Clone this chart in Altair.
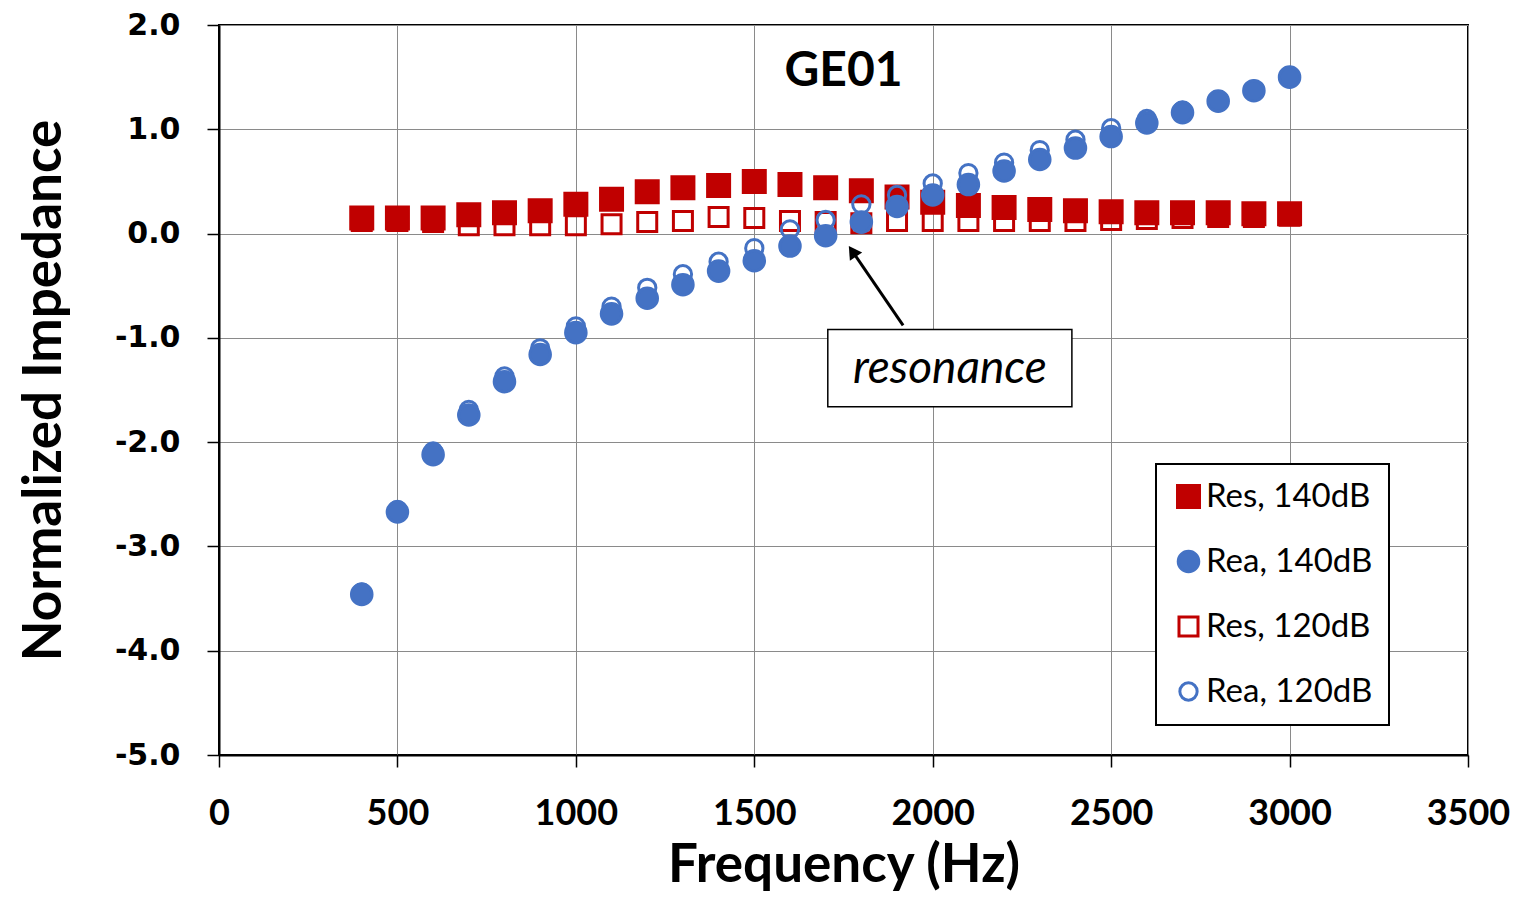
import altair as alt
import pandas as pd

# ---- data ----
freq = [400, 500, 600, 700, 800, 900, 1000, 1100, 1200, 1300, 1400, 1500, 1600, 1700,
        1800, 1900, 2000, 2100, 2200, 2300, 2400, 2500, 2600, 2700, 2800, 2900, 3000]
res_140 = [0.15, 0.15, 0.15, 0.18, 0.20, 0.22, 0.28, 0.33, 0.40, 0.44, 0.46, 0.50, 0.47, 0.44,
           0.41, 0.35, 0.30, 0.27, 0.25, 0.23, 0.22, 0.21, 0.20, 0.20, 0.20, 0.19, 0.19]
rea_140 = [-3.46, -2.67, -2.12, -1.74, -1.42, -1.16, -0.95, -0.77, -0.62, -0.49, -0.36, -0.26, -0.12, -0.02,
           0.11, 0.26, 0.37, 0.47, 0.60, 0.71, 0.82, 0.93, 1.06, 1.16, 1.27, 1.37, 1.50]
res_120 = [0.12, 0.12, 0.11, 0.08, 0.08, 0.08, 0.08, 0.09, 0.11, 0.12, 0.16, 0.15, 0.12, 0.11,
           0.10, 0.12, 0.12, 0.12, 0.12, 0.12, 0.12, 0.13, 0.14, 0.15, 0.16, 0.16, 0.17]
rea_120 = [-3.44, -2.65, -2.09, -1.69, -1.37, -1.10, -0.89, -0.70, -0.52, -0.39, -0.27, -0.14, 0.04, 0.13,
           0.28, 0.37, 0.48, 0.58, 0.68, 0.80, 0.90, 1.01, 1.10, 1.18, 1.28, 1.38, 1.50]

series_names = ["Res, 140dB", "Rea, 140dB", "Res, 120dB", "Rea, 120dB"]
x_ticks = [0, 500, 1000, 1500, 2000, 2500, 3000, 3500]
y_ticks = [-5, -4, -3, -2, -1, 0, 1, 2]

title_text = ["GE01"]
title_pos = [1750, 1.55]
note_text = ["resonance"]
note_pos = [2048, -1.30]
note_box = [1706, 2390, -0.92, -1.66]
arrow_start = [1917, -0.88]
arrow_end = [1775, -0.17]

RED = "#C00000"
BLUE = "#4472C4"

# ---- build table ----
rows = []
draw_order = [(series_names[2], res_120), (series_names[0], res_140),
              (series_names[3], rea_120), (series_names[1], rea_140)]
for z, (name, vals) in enumerate(draw_order):
    for f, v in zip(freq, vals):
        rows.append({"series": name, "freq": f, "value": v, "z": z})
df = pd.DataFrame(rows)

leg = alt.Legend(
    title=None, orient="none", legendX=937, legendY=439,
    padding=16, strokeColor="black", fillColor="white",
    labelFont="Lato", labelFontSize=33, labelColor="black", labelFontWeight="normal",
    rowPadding=31, symbolStrokeWidth=3, labelOffset=1, labelLimit=400,
)

xs = alt.X("freq:Q", scale=alt.Scale(domain=[0, 3500], nice=False, zero=False),
           axis=alt.Axis(values=x_ticks, title="Frequency (Hz)", format="d",
                         labelFont="Lato", labelFontSize=36, labelFlush=False,
                         labelPadding=29, titlePadding=8))
ys = alt.Y("value:Q", scale=alt.Scale(domain=[-5, 2], nice=False, zero=False),
           axis=alt.Axis(values=y_ticks, title="Normalized Impedance",
                         labelExpr="(datum.value < 0 ? '-' : '') + format(abs(datum.value), '.1f')",
                         labelFont="DejaVu Sans", labelFontSize=30,
                         labelPadding=27, titlePadding=43))

points = alt.Chart(df).mark_point(filled=True, strokeWidth=3, opacity=1).encode(
    x=xs, y=ys,
    shape=alt.Shape("series:N", scale=alt.Scale(domain=series_names,
                    range=["square", "circle", "square", "circle"]), legend=leg),
    fill=alt.Fill("series:N", scale=alt.Scale(domain=series_names,
                  range=[RED, BLUE, "transparent", "transparent"]), legend=leg),
    stroke=alt.Stroke("series:N", scale=alt.Scale(domain=series_names,
                      range=[RED, BLUE, RED, BLUE]), legend=leg),
    size=alt.Size("series:N", scale=alt.Scale(domain=series_names,
                  range=[484, 300, 289, 240]), legend=leg),
    order=alt.Order("z:Q"),
)

title_df = pd.DataFrame({"t": title_text, "x": [title_pos[0]], "y": [title_pos[1]]})
title_mark = alt.Chart(title_df).mark_text(
    font="Lato", fontWeight="bold", fontSize=48, color="black", baseline="middle", align="center"
).encode(x="x:Q", y="y:Q", text="t:N")

box_df = pd.DataFrame({"x": [note_box[0]], "x2": [note_box[1]], "y": [note_box[2]], "y2": [note_box[3]]})
box = alt.Chart(box_df).mark_rect(fill="white", stroke="black", strokeWidth=1.5).encode(
    x="x:Q", x2="x2:Q", y="y:Q", y2="y2:Q")

note_df = pd.DataFrame({"t": note_text, "x": [note_pos[0]], "y": [note_pos[1]]})
note = alt.Chart(note_df).mark_text(
    font="Lato", fontStyle="italic", fontSize=46, color="black", baseline="middle", align="center"
).encode(x="x:Q", y="y:Q", text="t:N")

arrow_df = pd.DataFrame({"x": [arrow_start[0]], "y": [arrow_start[1]],
                         "x2": [arrow_end[0]], "y2": [arrow_end[1]]})
arrow_line = alt.Chart(arrow_df).mark_rule(color="black", strokeWidth=3).encode(
    x="x:Q", y="y:Q", x2="x2:Q", y2="y2:Q")
head_df = pd.DataFrame({"x": [arrow_end[0]], "y": [arrow_end[1]]})
arrow_head = alt.Chart(head_df).mark_point(
    shape="triangle-up", filled=True, color="black", size=220, angle=326, opacity=1
).encode(x="x:Q", y="y:Q")

chart = alt.layer(points, title_mark, arrow_line, arrow_head, box, note).properties(
    width=1249, height=730,
    autosize=alt.AutoSizeParams(type="none"),
    padding={"left": 211, "top": 17, "right": 43, "bottom": 139},
).configure_view(
    stroke="black", strokeWidth=2
).configure_axis(
    domainColor="black", domainWidth=2, tickColor="black", tickWidth=1.5, tickSize=12,
    grid=True, gridColor="#8a8a8a", gridWidth=1,
    labelFontWeight="bold", labelColor="black",
    titleFont="Lato", titleFontWeight="bold", titleFontSize=53, titleColor="black",
).configure_legend(strokeWidth=2)

chart.save("out.html", embed_options={"renderer": "svg", "actions": False})
